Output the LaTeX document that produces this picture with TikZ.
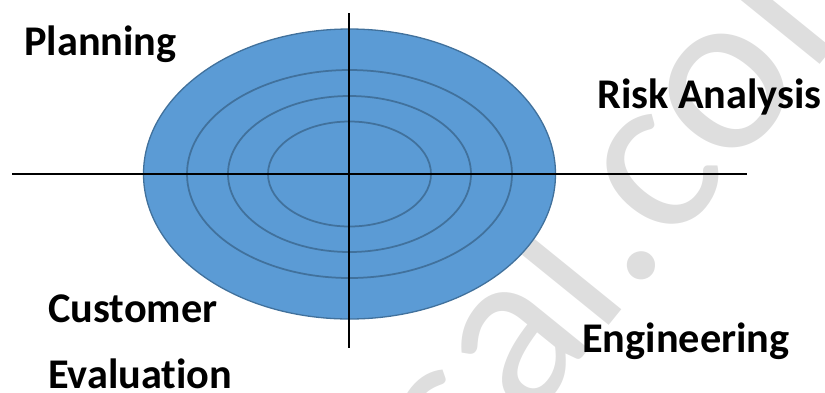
\documentclass[tikz,border=0pt]{standalone}
\usepackage{fontspec}
\setmainfont{Carlito}[Ligatures=NoCommon]
\newfontfamily\wmfont{Carlito}[Ligatures=NoCommon]
\usetikzlibrary{shapes.geometric}
\definecolor{ringfill}{HTML}{5B9BD5}
\definecolor{ringline}{HTML}{41719C}
\definecolor{wmgray}{HTML}{DEDEDE}
\begin{document}
\begin{tikzpicture}[x=1pt,y=-1pt,
  lbl/.style={font=\fontsize{42.3}{42.3}\selectfont\bfseries, anchor=base west, inner sep=0pt},
  ring/.style={ellipse, draw=ringline, line width=1.75pt, inner sep=0pt},
  axis/.style={draw=black, line width=2.25pt},
  wm/.style={font=\wmfont\fontsize{235}{235}\selectfont, text=wmgray, inner sep=0pt, rotate=51}]
\useasboundingbox (0,0) rectangle (825,392);
% watermark
\node[wm, anchor=base east] (wma) at (670,250) {sal.};
\node[wm, anchor=base west] (wmb) at (670,250) {com};
% ellipses
\node[ring, fill=ringfill, line width=1.3pt, minimum width=412pt, minimum height=290pt] (outer) at (349.5,174) {};
\node[ring, minimum width=325pt, minimum height=208pt] (r1) at (349.5,174) {};
\node[ring, minimum width=243pt, minimum height=156pt] (r2) at (349.5,174) {};
\node[ring, minimum width=163pt, minimum height=105pt] (r3) at (349.5,174) {};
% axes
\coordinate (hl) at (12,174);
\coordinate (hr) at (747,174);
\coordinate (vt) at (349,13);
\coordinate (vb) at (349,348);
\draw[axis] (hl) -- (hr);
\draw[axis] (vt) -- (vb);
% labels
\node[lbl] (plan) at (24,55) {Planning};
\node[lbl] (risk) at (597,108) {Risk Analysis};
\node[lbl] (cust) at (48,322) {Customer};
\node[lbl] (eval) at (48,388) {Evaluation};
\node[lbl] (eng) at (582,352) {Engineering};
\end{tikzpicture}
\end{document}
